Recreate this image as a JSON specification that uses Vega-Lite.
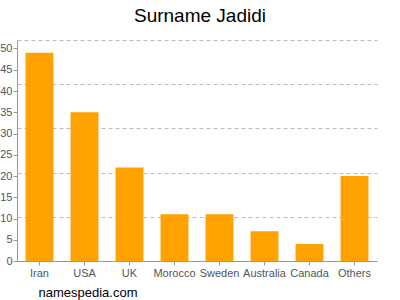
{
  "$schema": "https://vega.github.io/schema/vega-lite/v6.json",
  "width": 360,
  "height": 221,
  "autosize": "none",
  "padding": {"left": 17, "top": 40, "right": 23, "bottom": 39},
  "background": "white",
  "title": {"text": "Surname Jadidi", "fontSize": 19, "font": "Liberation Sans", "fontWeight": "normal", "color": "#000000", "anchor": "middle", "offset": 14, "dx": 3},
  "data": {"values": [
    {"country": "Iran", "count": 49},
    {"country": "USA", "count": 35},
    {"country": "UK", "count": 22},
    {"country": "Morocco", "count": 11},
    {"country": "Sweden", "count": 11},
    {"country": "Australia", "count": 7},
    {"country": "Canada", "count": 4},
    {"country": "Others", "count": 20}
  ]},
  "config": {
    "view": {"stroke": null},
    "axis": {"labelFont": "Liberation Sans", "labelFontSize": 11, "labelColor": "#555555", "domainColor": "#999999", "tickColor": "#999999"}
  },
  "layer": [
    {
      "mark": {"type": "bar", "color": "#ffa200"},
      "encoding": {
        "x": {"field": "country", "type": "nominal", "sort": null,
              "scale": {"paddingInner": 0.38, "paddingOuter": 0.19},
              "axis": {"labelAngle": 0, "tickSize": 4, "labelPadding": 2, "title": "namespedia.com", "titleFont": "Liberation Sans", "titleFontSize": 13, "titleFontWeight": "normal", "titleColor": "#000000", "titleAnchor": "start", "titleAlign": "left", "titleBaseline": "alphabetic", "titleX": 21, "titleY": 35}},
        "y": {"field": "count", "type": "quantitative",
              "scale": {"domain": [0, 52], "nice": false},
              "axis": {"values": [0, 5, 10, 15, 20, 25, 30, 35, 40, 45, 50], "grid": false, "title": null, "tickSize": 4, "labelPadding": 1, "orient": "left"}}
      }
    },
    {
      "mark": {"type": "bar", "opacity": 0},
      "encoding": {
        "x": {"field": "country", "type": "nominal", "sort": null},
        "y": {"field": "count", "type": "quantitative",
              "axis": {"values": [10.4, 20.8, 31.2, 41.6, 52], "grid": true, "gridDash": [4, 3], "gridColor": "#bbbbbb", "labels": false, "ticks": false, "domain": false, "title": null, "orient": "left"}}
      }
    }
  ],
  "resolve": {"axis": {"y": "independent"}}
}
